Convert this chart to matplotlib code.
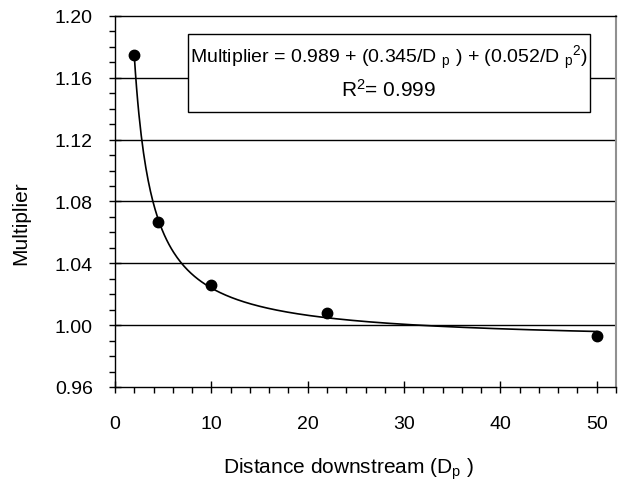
import matplotlib
matplotlib.use("Agg")
import matplotlib.pyplot as plt
import numpy as np
from matplotlib.patches import Rectangle
from matplotlib.ticker import MultipleLocator

plt.rcParams['font.family'] = ['Liberation Sans', 'DejaVu Sans']
plt.rcParams['mathtext.fontset'] = 'custom'
plt.rcParams['mathtext.rm'] = 'Liberation Sans'
plt.rcParams['mathtext.it'] = 'Liberation Sans:italic'

# measured points
distance = [2, 4.5, 10, 22, 50]
multiplier = [1.175, 1.067, 1.026, 1.008, 0.993]

# fitted curve coefficients
a0, a1, a2 = 0.989, 0.345, 0.052

y_ticks = [0.96, 1.00, 1.04, 1.08, 1.12, 1.16, 1.20]
x_ticks = [0, 10, 20, 30, 40, 50]

fig = plt.figure(figsize=(6.21, 4.85), dpi=100)
ax = fig.add_axes([115 / 621, 1 - 388 / 485, 501 / 621, 371 / 485])

# horizontal grid at major ticks
for yv in y_ticks[1:-1]:
    ax.axhline(yv, color='black', lw=1.0, zorder=1)

xs = np.linspace(distance[0], distance[-1], 400)
ax.plot(xs, a0 + a1 / xs + a2 / xs ** 2, color='black', lw=1.2, zorder=3)
ax.plot(distance, multiplier, 'o', color='black', ms=7.5, zorder=4)

ax.set_xlim(0, 52)
ax.set_ylim(0.96, 1.20)
ax.set_xticks(x_ticks)
ax.set_yticks(y_ticks)
ax.set_yticklabels([f"{v:.2f}" for v in y_ticks])
ax.xaxis.set_minor_locator(MultipleLocator(2))
ax.yaxis.set_minor_locator(MultipleLocator(0.01))
ax.tick_params(which='major', direction='inout', length=8, width=1, labelsize=14, pad=12)
ax.tick_params(which='minor', direction='out', length=4, width=1)
ax.tick_params(axis='x', pad=16)
ax.tick_params(top=False, right=False)

for s in ['left', 'bottom', 'top']:
    ax.spines[s].set_color('black')
    ax.spines[s].set_linewidth(1.0)
ax.spines['right'].set_color('#909090')
ax.spines['right'].set_linewidth(1.5)

# axis titles placed like the original
fig.text(21 / 621, 1 - 223 / 485, 'Multiplier', rotation=90,
         ha='center', va='center', fontsize=15)
fig.text(348 / 621, 1 - 474 / 485, r'Distance downstream (D$\mathregular{_p}$ )',
         ha='center', va='baseline', fontsize=15)

# equation box
box = Rectangle((0.146, 0.741), 0.802, 0.210, transform=ax.transAxes,
                facecolor='white', edgecolor='black', lw=1.0, zorder=5)
ax.add_patch(box)
ax.text(0.547, 0.889,
        r'Multiplier = 0.989 + (0.345/D $\mathregular{_p}$ ) + (0.052/D $\mathregular{_p}$$\mathregular{^2}$)',
        transform=ax.transAxes, ha='center', va='center', fontsize=14, zorder=6)
ax.text(0.547, 0.803, r'R$\mathregular{^2}$= 0.999',
        transform=ax.transAxes, ha='center', va='center', fontsize=15, zorder=6)

fig.savefig('out.png', dpi=100, facecolor='white')
